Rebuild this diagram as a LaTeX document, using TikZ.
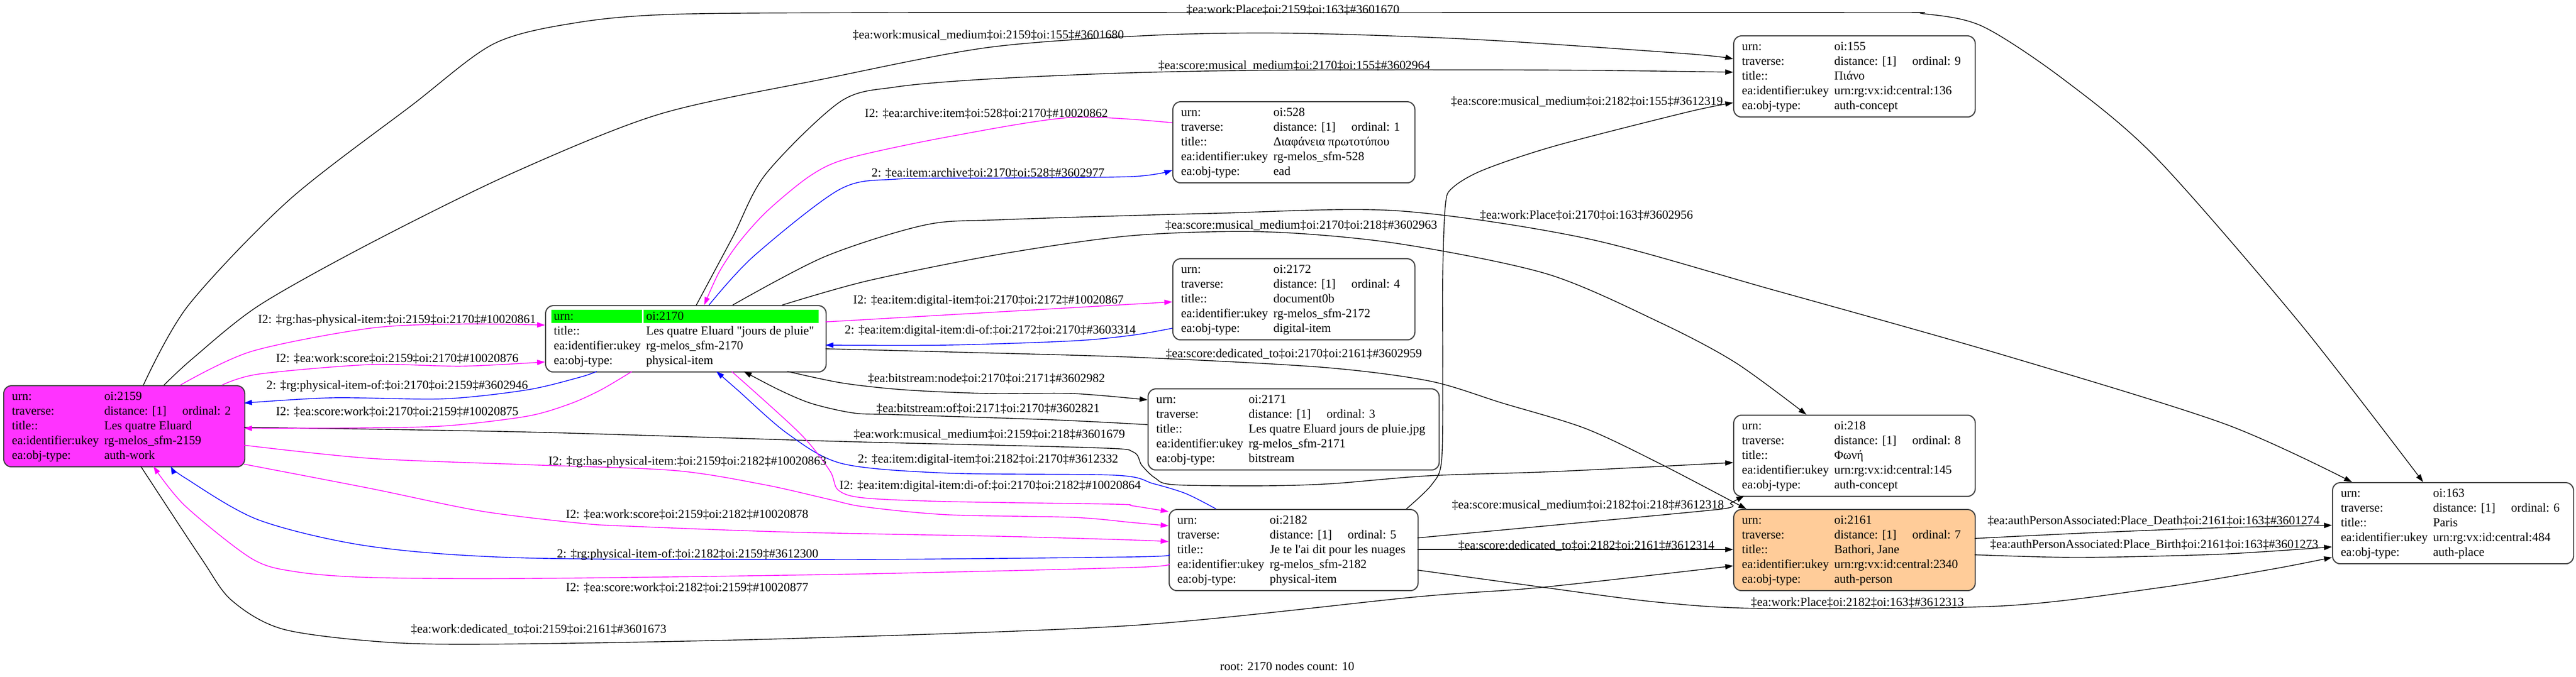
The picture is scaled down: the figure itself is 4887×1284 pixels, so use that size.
\documentclass[tikz,border=0pt]{standalone}
\usepackage{fontspec}
\newfontfamily\gvfont{Liberation Serif}
\usetikzlibrary{arrows.meta,calc}
\definecolor{gvmag}{HTML}{FF00FF}
\definecolor{gvblue}{HTML}{0000FF}
\definecolor{gvpink}{HTML}{FF33FF}
\definecolor{gvorange}{HTML}{FFCC99}
\definecolor{gvgreen}{HTML}{00FF00}
\newcommand{\gvrows}[5]{%
\begin{tabular}{@{}p{1.75cm}@{}p{1.48cm}@{}l@{}}
urn: & \multicolumn{2}{@{}l@{}}{#1}\\
traverse: & distance: [1] & ordinal: #2\\
title:: & \multicolumn{2}{@{}l@{}}{#3}\\
ea:identifier:ukey & \multicolumn{2}{@{}l@{}}{#4}\\
ea:obj-type: & \multicolumn{2}{@{}l@{}}{#5}
\end{tabular}}
\tikzset{
 gvframe/.style={draw=black!75, line width=0.6pt, rounded corners=0.15cm, inner sep=0pt, minimum height=1.54cm, anchor=north west},
 tbl/.style={anchor=north west, inner sep=0pt, font=\gvfont\fontsize{6.65}{7.97}\selectfont},
 elabel/.style={anchor=west, inner sep=0pt, font=\gvfont\fontsize{6.65}{7.97}\selectfont, text height=0.57em, text depth=0pt},
 gvedge/.style={line width=0.4pt, -{Triangle[length=0.15cm,width=0.1cm]}},
 bk/.style={gvedge, draw=black},
 mg/.style={gvedge, draw=gvmag},
 bl/.style={gvedge, draw=gvblue},
 sm/.style={smooth, tension=0.5},
}
\begin{document}
\begin{tikzpicture}[x=0.01cm,y=-0.01cm]
\fill[white] (0,0) rectangle (4887,1284);
\useasboundingbox (0,0) rectangle (4887,1284);

% ---------- boxes ----------
\node[gvframe, fill=gvpink, minimum width=4.57cm] (n2159) at (6,731) {};
\node[tbl] (t2159) at ($(n2159.north west)+(16,8)$) {\gvrows{oi:2159}{2}{Les quatre Eluard}{rg-melos\_sfm-2159}{auth-work}};

\node[gvframe, minimum width=5.32cm, minimum height=1.26cm] (n2170) at (1034,579) {};
\fill[gvgreen] ($(n2170.north west)+(12,9)$) rectangle ($(n2170.north west)+(184,34)$);
\fill[gvgreen] ($(n2170.north west)+(187,9)$) rectangle ($(n2170.north west)+(519,34)$);
\node[tbl] (t2170) at ($(n2170.north west)+(16,8)$) {\begin{tabular}{@{}p{1.75cm}@{}l@{}}
urn: & oi:2170\\
title:: & Les quatre Eluard "jours de pluie"\\
ea:identifier:ukey & rg-melos\_sfm-2170\\
ea:obj-type: & physical-item
\end{tabular}};

\node[gvframe, minimum width=4.59cm] (n528) at (2224,192) {};
\node[tbl] (t528) at ($(n528.north west)+(16,8)$) {\gvrows{oi:528}{1}{Διαφάνεια πρωτοτύπου}{rg-melos\_sfm-528}{ead}};

\node[gvframe, minimum width=4.58cm] (n155) at (3288,67) {};
\node[tbl] (t155) at ($(n155.north west)+(16,8)$) {\gvrows{oi:155}{9}{Πιάνο}{urn:rg:vx:id:central:136}{auth-concept}};

\node[gvframe, minimum width=4.59cm] (n2172) at (2224,490) {};
\node[tbl] (t2172) at ($(n2172.north west)+(16,8)$) {\gvrows{oi:2172}{4}{document0b}{rg-melos\_sfm-2172}{digital-item}};

\node[gvframe, minimum width=5.52cm] (n2171) at (2177,737) {};
\node[tbl] (t2171) at ($(n2171.north west)+(16,8)$) {\gvrows{oi:2171}{3}{Les quatre Eluard jours de pluie.jpg}{rg-melos\_sfm-2171}{bitstream}};

\node[gvframe, minimum width=4.72cm] (n2182) at (2217,966) {};
\node[tbl] (t2182) at ($(n2182.north west)+(16,8)$) {\gvrows{oi:2182}{5}{Je te l'ai dit pour les nuages}{rg-melos\_sfm-2182}{physical-item}};

\node[gvframe, minimum width=4.58cm] (n218) at (3288,787) {};
\node[tbl] (t218) at ($(n218.north west)+(16,8)$) {\gvrows{oi:218}{8}{Φωνή}{urn:rg:vx:id:central:145}{auth-concept}};

\node[gvframe, fill=gvorange, minimum width=4.58cm] (n2161) at (3288,966) {};
\node[tbl] (t2161) at ($(n2161.north west)+(16,8)$) {\gvrows{oi:2161}{7}{Bathori, Jane}{urn:rg:vx:id:central:2340}{auth-person}};

\node[gvframe, minimum width=4.57cm] (n163) at (4424,915) {};
\node[tbl] (t163) at ($(n163.north west)+(16,8)$) {\gvrows{oi:163}{6}{Paris}{urn:rg:vx:id:central:484}{auth-place}};

% ---------- edges ----------
% E1 2159 -> 163
\draw[bk] plot[sm] coordinates {($(n2159.north west)+(266,0)$) (357,580) (548,380) (781,200) (937,83) (1094,43) (1281,27) (1700,24) (2400,24) (3547,24) (3649,26) (3761,50) (3914,150) (4091,300) (4362,612) ($(n163.north west)+(173,0)$)};
% E2 2159 -> 155
\draw[bk] plot[sm] coordinates {($(n2159.north west)+(305,0)$) (366,680) (491,580) (700,463) (969,330) (1250,217) (1562,150) (1875,90) (2187,67) (2450,63) (2800,75) (3200,102) ($(n155.north west)+(0,45)$)};
% E3 2170 -> 155
\draw[bk] plot[sm] coordinates {($(n2170.north west)+(287,0)$) (1390,450) (1453,330) (1594,193) (1700,165) (1875,150) (2150,138) (2450,133) (2950,133) ($(n155.north west)+(0,70)$)};
% E4 528 -> 2170
\draw[mg] plot[sm] coordinates {($(n528.north west)+(0,41)$) (2031,223) (1797,260) (1611,300) (1538,333) (1456,400) (1402,460) (1364,517) ($(n2170.north west)+(302,0)$)};
% E5 2170 -> 528
\draw[bl] plot[sm] coordinates {($(n2170.north west)+(311,0)$) (1429,487) (1592,360) (1700,340) (1900,338) (2150,335) ($(n528.north west)+(0,131)$)};
% E6 2182 -> 155
\draw[bk] plot[sm] coordinates {($(n2182.north west)+(451,0)$) (2716,920) (2735,873) (2737,700) (2737,523) (2742,390) (2755,357) (2813,323) (2950,277) (3200,213) ($(n155.north west)+(0,128)$)};
% E7 2170 -> 163
\draw[bk] plot[sm] coordinates {($(n2170.north west)+(356,0)$) (1565,487) (1755,427) (1900,417) (2300,405) (2650,400) (3007,452) (3363,550) (3791,671) (4219,804) ($(n163.north west)+(38,0)$)};
% E8 2170 -> 218
\draw[bk] plot[sm] coordinates {($(n2170.north west)+(450,0)$) (1646,533) (1900,482) (2150,447) (2400,440) (2650,462) (2935,520) (3149,612) (3292,688) ($(n218.north west)+(139,0)$)};
% E9 2170 -> 2172
\draw[mg] ($(n2170.north west)+(532,32)$) -- ($(n2172.north west)+(0,83)$);
% E10 2172 -> 2170
\draw[bl] plot[sm] coordinates {($(n2172.north west)+(0,133)$) (2150,636) (2036,647) (1797,655) ($(n2170.north west)+(532,76)$)};
% E11 2170 -> 2161
\draw[bk] plot[sm] coordinates {($(n2170.north west)+(532,83)$) (1800,668) (2150,678) (2507,697) (2711,723) (2850,765) (3007,813) (3149,880) ($(n2161.north west)+(25,0)$)};
% E12 2170 -> 2171
\draw[bk] plot[sm] coordinates {($(n2170.north west)+(460,126)$) (1598,727) (1717,740) (1877,747) (2036,747) ($(n2171.north west)+(0,22)$)};
% E13 2171 -> 2170
\draw[bk] plot[sm] coordinates {($(n2171.north west)+(0,69)$) (2000,797) (1700,787) (1620,784) (1540,766) (1478,740) ($(n2170.north west)+(377,126)$)};
% E14 2159 -> 218
\draw[bk] plot[sm] coordinates {($(n2159.north west)+(457,80)$) (1000,820) (1600,838) (2080,850) (2150,858) (2166,883) (2191,907) (2227,920) (2400,922) (2527,918) (2711,903) (2950,895) ($(n218.north west)+(0,91)$)};
% E15 2182 -> 2170
\draw[bl] plot[sm] coordinates {($(n2182.north west)+(90,0)$) (2250,937) (2188,918) (2116,902) (1797,898) (1598,880) (1494,823) (1399,740) ($(n2170.north west)+(325,126)$)};
% E16 2170 -> 2182
\draw[mg] plot[sm] coordinates {($(n2170.north west)+(354,126)$) (1518,823) (1574,893) (1590,930) (1638,945) (1797,952) (2116,957) (2148,960) ($(n2182.north west)+(0,5)$)};
% E17 2159 -> 2170
\draw[mg] plot[sm] coordinates {($(n2159.north west)+(336,0)$) (477,667) (702,623) (877,615) ($(n2170.north west)+(0,38)$)};
% E18 2159 -> 2170
\draw[mg] plot[sm] coordinates {($(n2159.north west)+(415,0)$) (491,710) (702,692) (877,695) ($(n2170.north west)+(0,108)$)};
% E19 2170 -> 2159
\draw[bl] plot[sm] coordinates {($(n2170.north west)+(98,126)$) (1100,716) (1000,740) (842,757) (631,755) ($(n2159.north west)+(457,34)$)};
% E20 2170 -> 2159
\draw[mg] plot[sm] coordinates {($(n2170.north west)+(165,126)$) (1140,740) (1080,767) (1000,790) (850,808) (702,812) ($(n2159.north west)+(457,82)$)};
% E21 2159 -> 2182
\draw[mg] plot[sm] coordinates {($(n2159.north west)+(457,114)$) (702,870) (1000,882) (1279,893) (1450,920) (1574,948) (1640,962) (1797,977) (2036,982) (2150,992) ($(n2182.north west)+(0,32)$)};
% E22 2159 -> 2182
\draw[mg] plot[sm] coordinates {($(n2159.north west)+(457,150)$) (702,927) (912,970) (1100,993) (1199,999) (1500,1010) (1900,1018) (2150,1025) ($(n2182.north west)+(0,62)$)};
% E23 2182 -> 2159
\draw[bl] plot[sm] coordinates {($(n2182.north west)+(0,87)$) (2150,1057) (1600,1062) (996,1059) (702,1037) (491,987) (351,907) ($(n2159.north west)+(318,154)$)};
% E24 2182 -> 2159
\draw[mg] plot[sm] coordinates {($(n2182.north west)+(0,104)$) (2150,1077) (1600,1090) (1000,1098) (700,1096) (560,1085) (477,1060) (351,960) ($(n2159.north west)+(285,154)$)};
% E25 2159 -> 2161
\draw[bk] plot[sm] coordinates {($(n2159.north west)+(261,154)$) (382,1060) (440,1140) (540,1195) (750,1220) (1000,1222) (1500,1212) (2150,1187) (2686,1133) (2923,1115) ($(n2161.north west)+(0,108)$)};
% E26 2182 -> 218
\draw[bk] plot[smooth,tension=0.3] coordinates {($(n2182.north west)+(472,55)$) (3259,967) (3283,955) ($(n218.north west)+(21,154)$)};
% E27 2182 -> 2161
\draw[bk] ($(n2182.north west)+(472,77)$) -- ($(n2161.north west)+(0,77)$);
% E28 2182 -> 163
\draw[bk] plot[sm] coordinates {($(n2182.north west)+(472,116)$) (2915,1113) (3145,1143) (3350,1155) (3800,1150) (4100,1115) (4312,1080) ($(n163.north west)+(0,143)$)};
% E29 2161 -> 163
\draw[bk] plot[sm] coordinates {($(n2161.north west)+(458,56)$) (3950,1012) (4200,1002) ($(n163.north west)+(0,82)$)};
% E30 2161 -> 163
\draw[bk] plot[sm] coordinates {($(n2161.north west)+(458,87)$) (3943,1058) (4210,1052) ($(n163.north west)+(0,123)$)};

% ---------- edge labels ----------
\node[elabel] (l1) at (2250,15) {‡ea:work:Place‡oi:2159‡oi:163‡\#3601670};
\node[elabel] (l2) at (1617,63) {‡ea:work:musical\_medium‡oi:2159‡oi:155‡\#3601680};
\node[elabel] (l3) at (2197,121) {‡ea:score:musical\_medium‡oi:2170‡oi:155‡\#3602964};
\node[elabel] (l4) at (1640,212) {I2: ‡ea:archive:item‡oi:528‡oi:2170‡\#10020862};
\node[elabel] (l5) at (1653,325) {2: ‡ea:item:archive‡oi:2170‡oi:528‡\#3602977};
\node[elabel] (l6) at (2752,189) {‡ea:score:musical\_medium‡oi:2182‡oi:155‡\#3612319};
\node[elabel] (l7) at (2807,405) {‡ea:work:Place‡oi:2170‡oi:163‡\#3602956};
\node[elabel] (l8) at (2210,424) {‡ea:score:musical\_medium‡oi:2170‡oi:218‡\#3602963};
\node[elabel] (l9) at (1618,566) {I2: ‡ea:item:digital-item‡oi:2170‡oi:2172‡\#10020867};
\node[elabel] (l10) at (1602,623) {2: ‡ea:item:digital-item:di-of:‡oi:2172‡oi:2170‡\#3603314};
\node[elabel] (l11) at (2211,668) {‡ea:score:dedicated\_to‡oi:2170‡oi:2161‡\#3602959};
\node[elabel] (l12) at (1646,715) {‡ea:bitstream:node‡oi:2170‡oi:2171‡\#3602982};
\node[elabel] (l13) at (1662,772) {‡ea:bitstream:of‡oi:2171‡oi:2170‡\#3602821};
\node[elabel] (l14) at (1619,821) {‡ea:work:musical\_medium‡oi:2159‡oi:218‡\#3601679};
\node[elabel] (l15) at (1627,868) {2: ‡ea:item:digital-item‡oi:2182‡oi:2170‡\#3612332};
\node[elabel] (l16) at (1592,918) {I2: ‡ea:item:digital-item:di-of:‡oi:2170‡oi:2182‡\#10020864};
\node[elabel] (l17) at (489,603) {I2: ‡rg:has-physical-item:‡oi:2159‡oi:2170‡\#10020861};
\node[elabel] (l18) at (523,677) {I2: ‡ea:work:score‡oi:2159‡oi:2170‡\#10020876};
\node[elabel] (l19) at (505,728) {2: ‡rg:physical-item-of:‡oi:2170‡oi:2159‡\#3602946};
\node[elabel] (l20) at (523,778) {I2: ‡ea:score:work‡oi:2170‡oi:2159‡\#10020875};
\node[elabel] (l21) at (1040,872) {I2: ‡rg:has-physical-item:‡oi:2159‡oi:2182‡\#10020863};
\node[elabel] (l22) at (1073,973) {I2: ‡ea:work:score‡oi:2159‡oi:2182‡\#10020878};
\node[elabel] (l23) at (1056,1048) {2: ‡rg:physical-item-of:‡oi:2182‡oi:2159‡\#3612300};
\node[elabel] (l24) at (1073,1112) {I2: ‡ea:score:work‡oi:2182‡oi:2159‡\#10020877};
\node[elabel] (l25) at (779,1191) {‡ea:work:dedicated\_to‡oi:2159‡oi:2161‡\#3601673};
\node[elabel] (l26) at (2754,955) {‡ea:score:musical\_medium‡oi:2182‡oi:218‡\#3612318};
\node[elabel] (l27) at (2766,1032) {‡ea:score:dedicated\_to‡oi:2182‡oi:2161‡\#3612314};
\node[elabel] (l28) at (3321,1140) {‡ea:work:Place‡oi:2182‡oi:163‡\#3612313};
\node[elabel] (l29) at (3770,985) {‡ea:authPersonAssociated:Place\_Death‡oi:2161‡oi:163‡\#3601274};
\node[elabel] (l30) at (3775,1030) {‡ea:authPersonAssociated:Place\_Birth‡oi:2161‡oi:163‡\#3601273};
\node[elabel] (foot) at (2314,1262) {root: 2170 nodes count: 10};
\end{tikzpicture}
\end{document}
